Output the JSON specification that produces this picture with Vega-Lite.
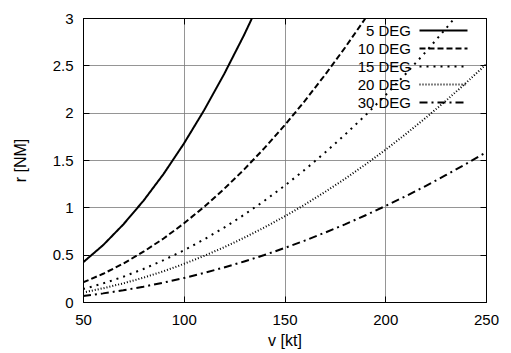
{
  "$schema": "https://vega.github.io/schema/vega-lite/v6.json",
  "width": 403,
  "height": 284,
  "autosize": "none",
  "padding": {"left": 83, "top": 18, "right": 25, "bottom": 51},
  "background": "white",
  "config": {
    "font": "Liberation Sans",
    "view": {"stroke": "black", "strokeWidth": 1},
    "axis": {
      "domainColor": "black",
      "tickColor": "black",
      "tickSize": -6,
      "tickWidth": 1,
      "gridColor": "#7a7a7a",
      "gridWidth": 0.8,
      "gridOpacity": 1,
      "labelFont": "Liberation Sans",
      "labelFontSize": 15,
      "labelColor": "black",
      "labelFlush": false,
      "titleFont": "Liberation Sans",
      "titleFontSize": 16,
      "titleFontWeight": "normal",
      "titleColor": "black"
    }
  },
  "data": {
    "values": [
      {"s": "5 DEG", "v": 50, "r": 0.418}, {"s": "5 DEG", "v": 60, "r": 0.601}, {"s": "5 DEG", "v": 70, "r": 0.819},
      {"s": "5 DEG", "v": 80, "r": 1.069}, {"s": "5 DEG", "v": 90, "r": 1.353}, {"s": "5 DEG", "v": 100, "r": 1.671},
      {"s": "5 DEG", "v": 110, "r": 2.022}, {"s": "5 DEG", "v": 120, "r": 2.406}, {"s": "5 DEG", "v": 130, "r": 2.823},
      {"s": "5 DEG", "v": 140, "r": 3.275},
      {"s": "10 DEG", "v": 50, "r": 0.207}, {"s": "10 DEG", "v": 60, "r": 0.298}, {"s": "10 DEG", "v": 70, "r": 0.406},
      {"s": "10 DEG", "v": 80, "r": 0.531}, {"s": "10 DEG", "v": 90, "r": 0.671}, {"s": "10 DEG", "v": 100, "r": 0.829},
      {"s": "10 DEG", "v": 110, "r": 1.003}, {"s": "10 DEG", "v": 120, "r": 1.194}, {"s": "10 DEG", "v": 130, "r": 1.401},
      {"s": "10 DEG", "v": 140, "r": 1.625}, {"s": "10 DEG", "v": 150, "r": 1.865}, {"s": "10 DEG", "v": 160, "r": 2.122},
      {"s": "10 DEG", "v": 170, "r": 2.396}, {"s": "10 DEG", "v": 180, "r": 2.686}, {"s": "10 DEG", "v": 190, "r": 2.992},
      {"s": "10 DEG", "v": 200, "r": 3.316},
      {"s": "15 DEG", "v": 50, "r": 0.136}, {"s": "15 DEG", "v": 60, "r": 0.196}, {"s": "15 DEG", "v": 70, "r": 0.267},
      {"s": "15 DEG", "v": 80, "r": 0.349}, {"s": "15 DEG", "v": 90, "r": 0.442}, {"s": "15 DEG", "v": 100, "r": 0.545},
      {"s": "15 DEG", "v": 110, "r": 0.660}, {"s": "15 DEG", "v": 120, "r": 0.785}, {"s": "15 DEG", "v": 130, "r": 0.922},
      {"s": "15 DEG", "v": 140, "r": 1.069}, {"s": "15 DEG", "v": 150, "r": 1.227}, {"s": "15 DEG", "v": 160, "r": 1.396},
      {"s": "15 DEG", "v": 170, "r": 1.576}, {"s": "15 DEG", "v": 180, "r": 1.767}, {"s": "15 DEG", "v": 190, "r": 1.969},
      {"s": "15 DEG", "v": 200, "r": 2.182}, {"s": "15 DEG", "v": 210, "r": 2.406}, {"s": "15 DEG", "v": 220, "r": 2.640},
      {"s": "15 DEG", "v": 230, "r": 2.886}, {"s": "15 DEG", "v": 240, "r": 3.142},
      {"s": "20 DEG", "v": 50, "r": 0.100}, {"s": "20 DEG", "v": 60, "r": 0.145}, {"s": "20 DEG", "v": 70, "r": 0.197},
      {"s": "20 DEG", "v": 80, "r": 0.257}, {"s": "20 DEG", "v": 90, "r": 0.325}, {"s": "20 DEG", "v": 100, "r": 0.402},
      {"s": "20 DEG", "v": 110, "r": 0.486}, {"s": "20 DEG", "v": 120, "r": 0.578}, {"s": "20 DEG", "v": 130, "r": 0.679},
      {"s": "20 DEG", "v": 140, "r": 0.787}, {"s": "20 DEG", "v": 150, "r": 0.904}, {"s": "20 DEG", "v": 160, "r": 1.028},
      {"s": "20 DEG", "v": 170, "r": 1.161}, {"s": "20 DEG", "v": 180, "r": 1.301}, {"s": "20 DEG", "v": 190, "r": 1.450},
      {"s": "20 DEG", "v": 200, "r": 1.606}, {"s": "20 DEG", "v": 210, "r": 1.771}, {"s": "20 DEG", "v": 220, "r": 1.944},
      {"s": "20 DEG", "v": 230, "r": 2.124}, {"s": "20 DEG", "v": 240, "r": 2.313}, {"s": "20 DEG", "v": 250, "r": 2.510},
      {"s": "30 DEG", "v": 50, "r": 0.063}, {"s": "30 DEG", "v": 60, "r": 0.091}, {"s": "30 DEG", "v": 70, "r": 0.124},
      {"s": "30 DEG", "v": 80, "r": 0.162}, {"s": "30 DEG", "v": 90, "r": 0.205}, {"s": "30 DEG", "v": 100, "r": 0.253},
      {"s": "30 DEG", "v": 110, "r": 0.306}, {"s": "30 DEG", "v": 120, "r": 0.365}, {"s": "30 DEG", "v": 130, "r": 0.428},
      {"s": "30 DEG", "v": 140, "r": 0.496}, {"s": "30 DEG", "v": 150, "r": 0.570}, {"s": "30 DEG", "v": 160, "r": 0.648},
      {"s": "30 DEG", "v": 170, "r": 0.732}, {"s": "30 DEG", "v": 180, "r": 0.820}, {"s": "30 DEG", "v": 190, "r": 0.914},
      {"s": "30 DEG", "v": 200, "r": 1.013}, {"s": "30 DEG", "v": 210, "r": 1.116}, {"s": "30 DEG", "v": 220, "r": 1.225},
      {"s": "30 DEG", "v": 230, "r": 1.339}, {"s": "30 DEG", "v": 240, "r": 1.458}, {"s": "30 DEG", "v": 250, "r": 1.582}
    ]
  },
  "layer": [
    {
      "mark": {"type": "line", "clip": true, "color": "black", "strokeWidth": 2},
      "encoding": {
        "x": {
          "field": "v", "type": "quantitative",
          "scale": {"domain": [50, 250], "nice": false, "zero": false},
          "axis": {"title": "v [kt]", "values": [50, 100, 150, 200, 250], "labelPadding": 16, "titlePadding": 5}
        },
        "y": {
          "field": "r", "type": "quantitative",
          "scale": {"domain": [0, 3], "nice": false},
          "axis": {"title": "r [NM]", "values": [0, 0.5, 1, 1.5, 2, 2.5, 3], "format": "~g", "labelPadding": 16, "titlePadding": 24}
        },
        "strokeDash": {
          "field": "s", "type": "nominal",
          "scale": {
            "domain": ["5 DEG", "10 DEG", "15 DEG", "20 DEG", "30 DEG"],
            "range": [[1, 0], [6, 3], [2, 5], [1, 2], [8, 4, 2, 4]]
          },
          "legend": {
            "orient": "none",
            "legendX": 353,
            "legendY": 5,
            "title": null,
            "symbolType": "M-4,0H4",
            "symbolSize": 144,
            "symbolStrokeWidth": 2,
            "symbolStrokeColor": "black",
            "labelAlign": "right",
            "labelOffset": -40,
            "labelFontSize": 15,
            "labelFont": "Liberation Sans",
            "labelColor": "black",
            "rowPadding": 2,
            "padding": 0
          }
        }
      }
    },
    {
      "mark": {"type": "point", "opacity": 0},
      "encoding": {
        "x": {
          "field": "v", "type": "quantitative",
          "axis": {"orient": "top", "title": null, "labels": false, "grid": false, "values": [50, 100, 150, 200, 250]}
        },
        "y": {
          "field": "r", "type": "quantitative",
          "axis": {"orient": "right", "title": null, "labels": false, "grid": false, "values": [0, 0.5, 1, 1.5, 2, 2.5, 3]}
        }
      }
    }
  ],
  "resolve": {"axis": {"x": "independent", "y": "independent"}}
}
